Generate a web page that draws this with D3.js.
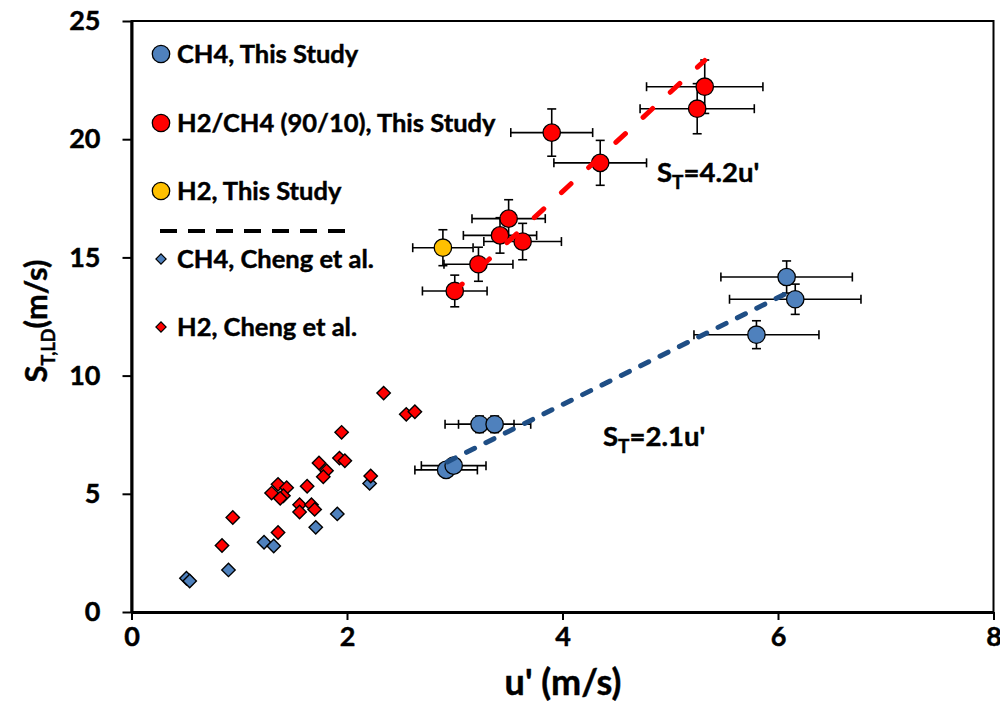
<!DOCTYPE html>
<html>
<head>
<meta charset="utf-8">
<script src="https://cdn.jsdelivr.net/npm/d3@7/dist/d3.min.js"></script>
<style>
  body { margin: 0; background: #fff; }
  text { font-family: Lato, "Open Sans", sans-serif; font-weight: bold; fill: #000;
         stroke: #000; stroke-width: 0.45px; }
</style>
</head>
<body>
<svg id="chart" width="1000" height="704"></svg>
<script>
// CH4, this study (circles with error bars)
const ch4U    = [6.08, 6.16, 5.80, 3.23, 3.37, 2.92, 2.99];
const ch4S    = [14.17, 13.23, 11.73, 7.94, 7.94, 6.01, 6.19];
const ch4UErr = [0.61, 0.61, 0.58, 0.32, 0.335, 0.29, 0.30];
const ch4SErr = [0.68, 0.64, 0.59, 0.35, 0.35, 0.25, 0.25];

// H2/CH4 (90/10), this study
const blendU    = [5.32, 5.25, 3.90, 4.35, 3.50, 3.42, 3.63, 3.22, 3.00];
const blendS    = [22.22, 21.29, 20.28, 19.00, 16.64, 15.93, 15.67, 14.71, 13.58];
const blendUErr = [0.54, 0.53, 0.38, 0.43, 0.34, 0.34, 0.36, 0.32, 0.30];
const blendSErr = [1.13, 1.06, 1.00, 0.95, 0.80, 0.75, 0.77, 0.72, 0.67];

// H2, this study
const h2U    = [2.89];
const h2S    = [15.41];
const h2UErr = [0.28];
const h2SErr = [0.76];

// Cheng et al., CH4
const chengCh4U = [2.21, 1.91, 1.71, 1.23, 1.32, 0.90, 0.51, 0.54];
const chengCh4S = [5.44, 4.15, 3.58, 2.95, 2.79, 1.78, 1.43, 1.31];

// Cheng et al., H2
const chengH2U = [2.34, 2.55, 2.63, 1.95, 1.74, 1.93, 1.98, 1.81, 1.78, 2.22, 1.36, 1.44,
                  1.30, 1.41, 1.38, 1.63, 1.56, 1.67, 1.70, 1.56, 0.94, 1.36, 0.84];
const chengH2S = [9.26, 8.36, 8.47, 7.60, 6.30, 6.51, 6.40, 5.98, 5.72, 5.75, 5.40, 5.26,
                  5.03, 4.92, 4.81, 5.32, 4.54, 4.54, 4.34, 4.23, 4.00, 3.36, 2.81];

// Linear fits (end points)
const fitBlendU = [2.98, 5.32];
const fitBlendS = [13.50, 23.33];
const fitCh4U   = [2.93, 6.08];
const fitCh4S   = [6.35, 13.48];

const xTicks = [0, 2, 4, 6, 8];
const yTicks = [0, 5, 10, 15, 20, 25];

const legendItems = [
  { label: "CH4, This Study", kind: "circle", color: "#4F81BD" },
  { label: "H2/CH4 (90/10), This Study", kind: "circle", color: "#FF0000" },
  { label: "H2, This Study", kind: "circle", color: "#FFC000" },
  { label: "CH4, Cheng et al.", kind: "diamond", color: "#4F81BD" },
  { label: "H2, Cheng et al.", kind: "diamond", color: "#FF0000" }
];

const svg = d3.select("#chart");
const plotLeft = 131.5, plotRight = 993.5, plotTop = 21, plotBottom = 612;

const x = d3.scaleLinear().domain([0, 8]).range([plotLeft, plotRight]);
const y = d3.scaleLinear().domain([0, 25]).range([plotBottom, plotTop]);

// Plot frame
svg.append("rect")
  .attr("x", plotLeft).attr("y", plotTop)
  .attr("width", plotRight - plotLeft).attr("height", plotBottom - plotTop)
  .attr("fill", "none").attr("stroke", "#000").attr("stroke-width", 2);

// Axes
const xAxis = svg.append("g").attr("transform", `translate(0,${plotBottom})`)
  .call(d3.axisBottom(x).tickValues(xTicks).tickSize(8).tickPadding(7).tickSizeOuter(0));
const yAxis = svg.append("g").attr("transform", `translate(${plotLeft},0)`)
  .call(d3.axisLeft(y).tickValues(yTicks).tickSize(9).tickPadding(22).tickSizeOuter(0));
[xAxis, yAxis].forEach(g => {
  g.select(".domain").attr("stroke", "#000").attr("stroke-width", 3);
  g.selectAll(".tick line").attr("stroke", "#000").attr("stroke-width", 2);
  g.selectAll(".tick text").style("font-size", "27px").style("font-family", "Lato, sans-serif")
    .style("font-weight", "bold").attr("fill", "#000");
});

// Axis titles
svg.append("text").attr("x", 563).attr("y", 695).attr("text-anchor", "middle")
  .style("font-size", "36px").text("u' (m/s)");

const yTitle = svg.append("text").attr("transform", "translate(47,321) rotate(-90)")
  .attr("text-anchor", "middle").style("font-size", "31px");
yTitle.append("tspan").text("S");
yTitle.append("tspan").attr("dy", 8).style("font-size", "18px").text("T,LD");
yTitle.append("tspan").attr("dy", -8).text("(m/s)");

// Error bars
function errorBars(us, ss, ue, se) {
  const g = svg.append("g").attr("stroke", "#000").attr("stroke-width", 1.6).attr("fill", "none");
  const cap = 4.5;
  us.forEach((u, i) => {
    const cx = x(u), cy = y(ss[i]);
    const x0 = x(u - ue[i]), x1 = x(u + ue[i]);
    const y0 = y(ss[i] - se[i]), y1 = y(ss[i] + se[i]);
    g.append("line").attr("x1", x0).attr("x2", x1).attr("y1", cy).attr("y2", cy);
    g.append("line").attr("x1", x0).attr("x2", x0).attr("y1", cy - cap).attr("y2", cy + cap);
    g.append("line").attr("x1", x1).attr("x2", x1).attr("y1", cy - cap).attr("y2", cy + cap);
    g.append("line").attr("x1", cx).attr("x2", cx).attr("y1", y0).attr("y2", y1);
    g.append("line").attr("x1", cx - cap).attr("x2", cx + cap).attr("y1", y0).attr("y2", y0);
    g.append("line").attr("x1", cx - cap).attr("x2", cx + cap).attr("y1", y1).attr("y2", y1);
  });
}
function circles(us, ss, color) {
  svg.append("g").selectAll("circle").data(us).join("circle")
    .attr("cx", d => x(d)).attr("cy", (d, i) => y(ss[i])).attr("r", 8.7)
    .attr("fill", color).attr("stroke", "#000").attr("stroke-width", 1.3);
}
const diamond = d3.symbol().type(d3.symbolSquare).size(90);
function diamonds(us, ss, color) {
  svg.append("g").selectAll("path").data(us).join("path")
    .attr("d", diamond)
    .attr("transform", (d, i) => `translate(${x(d)},${y(ss[i])}) rotate(45)`)
    .attr("fill", color).attr("stroke", "#000").attr("stroke-width", 1.4);
}

errorBars(ch4U, ch4S, ch4UErr, ch4SErr);
circles(ch4U, ch4S, "#4F81BD");
errorBars(blendU, blendS, blendUErr, blendSErr);
circles(blendU, blendS, "#FF0000");
errorBars(h2U, h2S, h2UErr, h2SErr);
circles(h2U, h2S, "#FFC000");
diamonds(chengCh4U, chengCh4S, "#4F81BD");
diamonds(chengH2U, chengH2S, "#FF0000");

// Fit lines
const line = d3.line().x(d => x(d[0])).y(d => y(d[1]));
svg.append("path").datum(d3.zip(fitBlendU, fitBlendS)).attr("d", line)
  .attr("fill", "none").attr("stroke", "#FF0000").attr("stroke-width", 5)
  .attr("stroke-linecap", "round").attr("stroke-dasharray", "13,24");
svg.append("path").datum(d3.zip(fitCh4U, fitCh4S)).attr("d", line)
  .attr("fill", "none").attr("stroke", "#1F4E85").attr("stroke-width", 5)
  .attr("stroke-linecap", "round").attr("stroke-dasharray", "9,12.6");

// Fit annotations
function fitLabel(px, py, value) {
  const t = svg.append("text").attr("x", px).attr("y", py).style("font-size", "27.5px");
  t.append("tspan").text("S");
  t.append("tspan").attr("dy", 7).style("font-size", "19px").text("T");
  t.append("tspan").attr("dy", -7).text("=" + value + "u'");
}
fitLabel(657, 182, "4.2");
fitLabel(603, 446, "2.1");

// Legend
const legend = svg.append("g");
const legendY = [54, 123, 191, 259, 327];
legendItems.forEach((d, i) => {
  const cy = legendY[i];
  if (d.kind === "circle") {
    legend.append("circle").attr("cx", 161).attr("cy", cy).attr("r", 8.7)
      .attr("fill", d.color).attr("stroke", "#000").attr("stroke-width", 1.3);
  } else {
    legend.append("path").attr("d", d3.symbol().type(d3.symbolSquare).size(52))
      .attr("transform", `translate(161,${cy}) rotate(45)`)
      .attr("fill", d.color).attr("stroke", "#000").attr("stroke-width", 1.2);
  }
  legend.append("text").attr("x", 177).attr("y", cy).attr("dy", "0.35em")
    .style("font-size", "25.5px").text(d.label);
});
// Dashed legend separator
legend.append("line").attr("x1", 160).attr("x2", 350).attr("y1", 231).attr("y2", 231)
  .attr("stroke", "#000").attr("stroke-width", 4).attr("stroke-dasharray", "17,11");
</script>
</body>
</html>
